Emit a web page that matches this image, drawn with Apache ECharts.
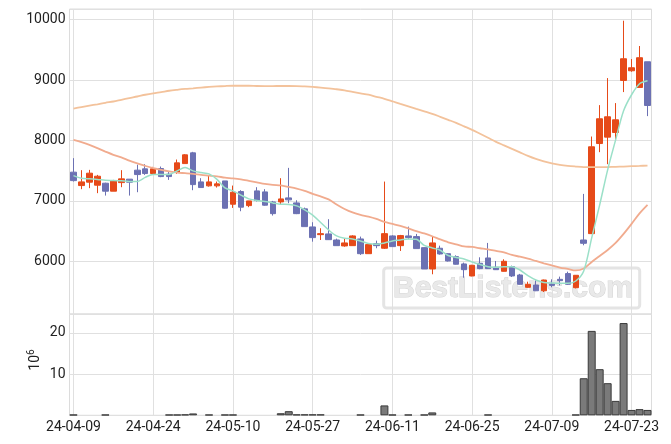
<!DOCTYPE html>
<html>
<head>
<meta charset="utf-8">
<script src="https://cdn.jsdelivr.net/npm/echarts@6/dist/echarts.min.js"></script>
<style>
html,body{margin:0;padding:0;background:#fff;}
#chart{width:671px;height:444px;}
</style>
</head>
<body>
<div id="chart"></div>
<script>
// Trading days (category labels)
const dates = ['24-04-09','24-04-11','24-04-12','24-04-15','24-04-16','24-04-17','24-04-18','24-04-19','24-04-22','24-04-23',
'24-04-24','24-04-25','24-04-26','24-04-29','24-04-30','24-05-02','24-05-03','24-05-07','24-05-08','24-05-09',
'24-05-10','24-05-13','24-05-14','24-05-16','24-05-17','24-05-20','24-05-21','24-05-22','24-05-23','24-05-24',
'24-05-27','24-05-28','24-05-29','24-05-30','24-05-31','24-06-03','24-06-04','24-06-05','24-06-07','24-06-10',
'24-06-11','24-06-12','24-06-13','24-06-14','24-06-17','24-06-18','24-06-19','24-06-20','24-06-21','24-06-24',
'24-06-25','24-06-26','24-06-27','24-06-28','24-07-01','24-07-02','24-07-03','24-07-04','24-07-05','24-07-08',
'24-07-09','24-07-10','24-07-11','24-07-12','24-07-15','24-07-16','24-07-17','24-07-18','24-07-19','24-07-22',
'24-07-23','24-07-24','24-07-25'];

const opens  = [7475,7253,7309,7259,7292,7160,7302,7359,7508,7530,7452,7535,7442,7475,7617,7795,7314,7248,7248,7330,
6944,7154,6921,7165,7148,6982,6982,7049,6966,6867,6568,6440,6452,6352,6253,6258,6369,6125,6291,6215,
6419,6258,6419,6408,6225,5872,6215,6125,6076,5955,5756,5966,6054,5900,5833,5910,5772,5568,5606,5511,
5623,5700,5795,5562,6352,6457,7949,8055,8132,8994,9154,8878,9303];
const closes = [7335,7314,7458,7408,7160,7330,7364,7309,7435,7452,7530,7402,7402,7629,7762,7269,7220,7314,7281,6878,
7143,6895,6999,7005,6928,6788,7032,7016,6788,6573,6391,6457,6357,6258,6303,6419,6125,6275,6258,6457,
6242,6424,6391,6209,5872,6303,6120,6004,5950,5860,5933,5877,5877,5860,5999,5756,5618,5618,5511,5689,
5600,5678,5618,5767,6297,7895,8359,8392,8342,9353,9204,9370,8579];
const lows   = [7320,7193,7210,7127,7087,7160,7226,7087,7143,7430,7430,7392,7347,7447,7617,7176,7220,7236,7220,6872,
6883,6828,6895,6990,6920,6756,6944,6961,6780,6573,6324,6352,6352,6258,6240,6258,6104,6125,6215,6203,
6242,6170,6364,6209,5872,5784,6110,5995,5945,5727,5750,5867,5872,5855,5830,5739,5610,5560,5505,5490,
5568,5600,5610,5550,6264,6450,7806,7607,7999,8801,9138,8878,8403];
const highs  = [7707,7508,7513,7430,7300,7347,7508,7359,7600,7608,7563,7568,7485,7684,7773,7811,7375,7425,7319,7330,
7253,7176,7000,7226,7193,6999,7375,7546,7010,6888,6646,6546,6696,6374,6369,6430,6408,6280,6341,7319,
6430,6436,6573,6452,6230,6408,6258,6130,6098,5977,5940,6065,6303,6004,6032,5927,5790,5661,5684,5695,
5700,5745,5827,5770,7115,8065,8585,9033,8619,9983,9348,9564,9303];

// Moving averages
const maShort = [7418,7375,7364,7355,7339,7336,7331,7322,7322,7389,7438,7438,7438,7496,7554,7496,7468,7447,7355,7215,
7165,7095,7032,7004,6991,6966,6944,6941,6916,6850,6764,6642,6518,6419,6381,6369,6336,6294,6281,6303,
6336,6352,6369,6364,6261,6220,6182,6095,6062,6037,5988,5946,5910,5900,5910,5910,5855,5761,5689,5648,
5640,5634,5634,5673,5838,6386,6933,7513,8010,8491,8757,8939,8989];
const maMid = [8010,7972,7928,7873,7816,7762,7720,7667,7621,7579,7541,7513,7488,7468,7458,7447,7430,7418,7405,7385,
7372,7355,7331,7306,7281,7264,7256,7231,7203,7165,7115,7074,7024,6941,6866,6808,6767,6739,6701,6651,
6618,6585,6543,6497,6460,6414,6361,6314,6281,6245,6236,6215,6195,6170,6145,6104,6075,6042,6004,5966,
5930,5896,5872,5847,5880,5988,6087,6187,6303,6452,6618,6792,6933];
const maLong = [8529,8553,8576,8599,8624,8645,8674,8702,8728,8757,8781,8801,8823,8839,8853,8864,8876,8886,8894,8901,
8906,8906,8906,8902,8901,8901,8902,8902,8901,8894,8886,8876,8864,8848,8831,8806,8781,8757,8723,8690,
8649,8607,8566,8524,8483,8441,8392,8342,8292,8234,8176,8110,8044,7977,7919,7861,7803,7745,7695,7654,
7621,7596,7579,7568,7559,7557,7557,7559,7563,7568,7574,7579,7584];

// Volume in millions (null = too small to see)
const volumes = [0.15,null,null,null,0.15,null,null,null,null,null,null,null,0.15,0.15,0.2,0.45,null,0.15,null,0.15,
0.15,null,null,null,null,null,0.5,1.0,0.2,0.2,0.2,0.2,null,null,null,null,0.15,null,null,2.4,
0.15,null,0.15,null,0.15,0.7,null,null,null,null,null,null,0.15,null,null,null,null,null,null,null,
null,null,null,0.15,9.0,20.5,11.2,7.8,3.5,22.4,1.3,1.5,1.3];

const UP = '#e64a19', DOWN = '#6c71b3';
const GRIDC = '#e0e0e0';
const FONT = 'Roboto';

const kData = opens.map((o, i) => [o, closes[i], lows[i], highs[i]]);
const volData = volumes.map(v => (v === null ? '-' : v));

const chart = echarts.init(document.getElementById('chart'), null, {renderer: 'canvas'});
chart.setOption({
  animation: false,
  backgroundColor: '#fff',
  grid: [
    {left: 69.5, right: 19.5, top: 9, height: 305, show: true, borderColor: '#dcdcdc', borderWidth: 1},
    {left: 69.5, right: 19.5, top: 314, height: 101.3, show: true, borderColor: '#dcdcdc', borderWidth: 1}
  ],
  xAxis: [
    {type: 'category', gridIndex: 0, data: dates, boundaryGap: true,
     axisLine: {show: false}, axisTick: {show: false}, axisLabel: {show: false},
     splitLine: {show: true, interval: 9, alignWithLabel: true, lineStyle: {color: GRIDC}}},
    {type: 'category', gridIndex: 1, data: dates, boundaryGap: true,
     axisLine: {show: false}, axisTick: {show: false},
     axisLabel: {show: true, interval: 9, color: '#222', fontSize: 14, fontFamily: FONT, margin: 5},
     splitLine: {show: true, interval: 9, alignWithLabel: true, lineStyle: {color: GRIDC}}}
  ],
  yAxis: [
    {type: 'value', gridIndex: 0, min: 5126, max: 10177, splitNumber: 5, scale: true,
     axisLine: {show: false}, axisTick: {show: false},
     axisLabel: {color: '#222', fontSize: 14, fontFamily: FONT, margin: 4, showMinLabel: false, showMaxLabel: false,
                 formatter: v => String(Math.round(v))},
     splitLine: {show: true, lineStyle: {color: GRIDC}}},
    {type: 'value', gridIndex: 1, min: 0, max: 24.6, interval: 10,
     axisLine: {show: false}, axisTick: {show: false},
     axisLabel: {color: '#222', fontSize: 14, fontFamily: FONT, margin: 4, showMinLabel: false, showMaxLabel: false},
     splitLine: {show: true, lineStyle: {color: GRIDC}}}
  ],
  graphic: [
    {type: 'rect', z: 0, silent: true,
     shape: {x: 383.7, y: 268, width: 256, height: 40, r: 3},
     style: {fill: 'none', stroke: '#e4e4e4', lineWidth: 3}},
    {type: 'text', z: 0, silent: true, x: 513, y: 289,
     style: {text: 'BestListens.com', font: 'bold 30px "Liberation Sans", Arial, sans-serif',
             fill: '#e9e9e9', stroke: '#d4d4d4', lineWidth: 1, align: 'center', verticalAlign: 'middle'}},
    {type: 'text', z: 10, silent: true, x: 35, y: 360, rotation: Math.PI / 2,
     style: {text: '{a|10}{b|6}', align: 'center', verticalAlign: 'middle',
             rich: {a: {fontSize: 14, fontFamily: FONT, fill: '#222', lineHeight: 18},
                    b: {fontSize: 10, fontFamily: FONT, fill: '#222', verticalAlign: 'top', lineHeight: 18}}}}
  ],
  series: [
    {type: 'candlestick', xAxisIndex: 0, yAxisIndex: 0, data: kData, barWidth: 6, z: 2,
     itemStyle: {color: UP, color0: DOWN, borderColor: UP, borderColor0: DOWN, borderWidth: 1}},
    {type: 'line', xAxisIndex: 0, yAxisIndex: 0, data: maLong, smooth: 0.3, showSymbol: false, z: 3,
     lineStyle: {color: '#f3c29b', width: 1.8}},
    {type: 'line', xAxisIndex: 0, yAxisIndex: 0, data: maMid, smooth: 0.3, showSymbol: false, z: 3,
     lineStyle: {color: '#f1ab8e', width: 1.8}},
    {type: 'line', xAxisIndex: 0, yAxisIndex: 0, data: maShort, smooth: 0.3, showSymbol: false, z: 3,
     lineStyle: {color: '#9be0c8', width: 1.5}},
    {type: 'bar', xAxisIndex: 1, yAxisIndex: 1, data: volData, barCategoryGap: '0%', z: 2,
     itemStyle: {color: '#7a7a7a', borderColor: '#3a3a3a', borderWidth: 1}}
  ]
});
</script>
</body>
</html>
